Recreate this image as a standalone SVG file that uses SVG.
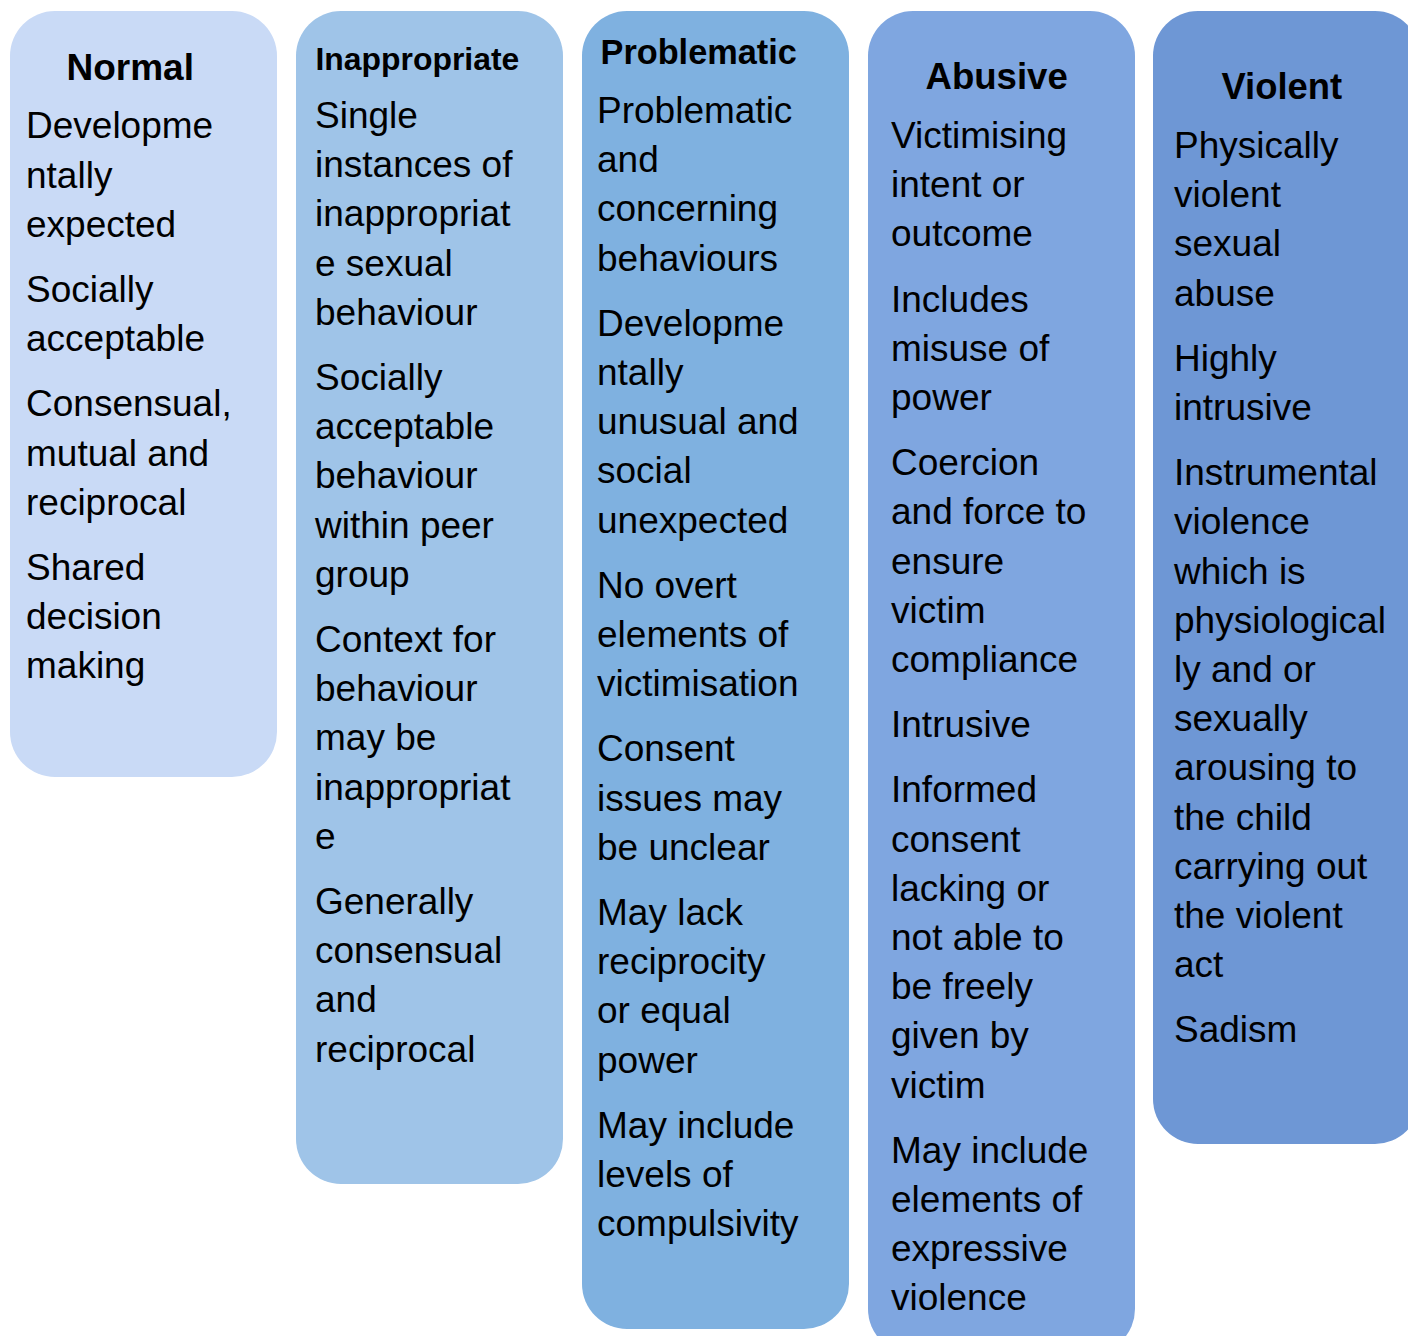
<svg xmlns="http://www.w3.org/2000/svg" width="1408" height="1336" viewBox="0 0 1408 1336">
<style>
text { font-family: "Liberation Sans", Arial, sans-serif; fill: #000; }
.h { font-weight: bold; }
.b { font-size: 37px; }
</style>
<rect width="1408" height="1336" fill="#fff"/>
<g id="normal">
<rect x="10" y="11" width="267" height="766" rx="45" ry="45" fill="#C9DAF6"/>
<text class="h" x="66.5" y="80" font-size="37">Normal</text>
<text class="b">
<tspan x="26" y="138.3">Developme</tspan>
<tspan x="26" y="187.5">ntally</tspan>
<tspan x="26" y="236.7">expected</tspan>
<tspan x="26" y="301.9">Socially</tspan>
<tspan x="26" y="351.1">acceptable</tspan>
<tspan x="26" y="416.3">Consensual,</tspan>
<tspan x="26" y="465.5">mutual and</tspan>
<tspan x="26" y="514.7">reciprocal</tspan>
<tspan x="26" y="579.9">Shared</tspan>
<tspan x="26" y="629.1">decision</tspan>
<tspan x="26" y="678.3">making</tspan>
</text>
</g>
<g id="inappropriate">
<rect x="296" y="11" width="267" height="1173" rx="45" ry="45" fill="#9FC4E8"/>
<text class="h" x="315.5" y="70" font-size="31.9">Inappropriate</text>
<text class="b">
<tspan x="315" y="128">Single</tspan>
<tspan x="315" y="177.2">instances of</tspan>
<tspan x="315" y="226.4">inappropriat</tspan>
<tspan x="315" y="275.6">e sexual</tspan>
<tspan x="315" y="324.8">behaviour</tspan>
<tspan x="315" y="390">Socially</tspan>
<tspan x="315" y="439.2">acceptable</tspan>
<tspan x="315" y="488.4">behaviour</tspan>
<tspan x="315" y="537.6">within peer</tspan>
<tspan x="315" y="586.8">group</tspan>
<tspan x="315" y="652">Context for</tspan>
<tspan x="315" y="701.2">behaviour</tspan>
<tspan x="315" y="750.4">may be</tspan>
<tspan x="315" y="799.6">inappropriat</tspan>
<tspan x="315" y="848.8">e</tspan>
<tspan x="315" y="914">Generally</tspan>
<tspan x="315" y="963.2">consensual</tspan>
<tspan x="315" y="1012.4">and</tspan>
<tspan x="315" y="1061.6">reciprocal</tspan>
</text>
</g>
<g id="problematic">
<rect x="582" y="11" width="267" height="1318" rx="45" ry="45" fill="#7FB1E0"/>
<text class="h" x="600.5" y="64" font-size="34.3">Problematic</text>
<text class="b">
<tspan x="597" y="123">Problematic</tspan>
<tspan x="597" y="172.2">and</tspan>
<tspan x="597" y="221.4">concerning</tspan>
<tspan x="597" y="270.6">behaviours</tspan>
<tspan x="597" y="335.8">Developme</tspan>
<tspan x="597" y="385">ntally</tspan>
<tspan x="597" y="434.2">unusual and</tspan>
<tspan x="597" y="483.4">social</tspan>
<tspan x="597" y="532.6">unexpected</tspan>
<tspan x="597" y="597.8">No overt</tspan>
<tspan x="597" y="647">elements of</tspan>
<tspan x="597" y="696.2">victimisation</tspan>
<tspan x="597" y="761.4">Consent</tspan>
<tspan x="597" y="810.6">issues may</tspan>
<tspan x="597" y="859.8">be unclear</tspan>
<tspan x="597" y="925">May lack</tspan>
<tspan x="597" y="974.2">reciprocity</tspan>
<tspan x="597" y="1023.4">or equal</tspan>
<tspan x="597" y="1072.6">power</tspan>
<tspan x="597" y="1137.8">May include</tspan>
<tspan x="597" y="1187">levels of</tspan>
<tspan x="597" y="1236.2">compulsivity</tspan>
</text>
</g>
<g id="abusive">
<rect x="868" y="11" width="267" height="1343" rx="45" ry="45" fill="#7FA6E0"/>
<text class="h" x="925.5" y="89" font-size="36.6">Abusive</text>
<text class="b">
<tspan x="891" y="148">Victimising</tspan>
<tspan x="891" y="197.2">intent or</tspan>
<tspan x="891" y="246.4">outcome</tspan>
<tspan x="891" y="311.6">Includes</tspan>
<tspan x="891" y="360.8">misuse of</tspan>
<tspan x="891" y="410">power</tspan>
<tspan x="891" y="475.2">Coercion</tspan>
<tspan x="891" y="524.4">and force to</tspan>
<tspan x="891" y="573.6">ensure</tspan>
<tspan x="891" y="622.8">victim</tspan>
<tspan x="891" y="672">compliance</tspan>
<tspan x="891" y="737.2">Intrusive</tspan>
<tspan x="891" y="802.4">Informed</tspan>
<tspan x="891" y="851.6">consent</tspan>
<tspan x="891" y="900.8">lacking or</tspan>
<tspan x="891" y="950">not able to</tspan>
<tspan x="891" y="999.2">be freely</tspan>
<tspan x="891" y="1048.4">given by</tspan>
<tspan x="891" y="1097.6">victim</tspan>
<tspan x="891" y="1162.8">May include</tspan>
<tspan x="891" y="1212">elements of</tspan>
<tspan x="891" y="1261.2">expressive</tspan>
<tspan x="891" y="1310.4">violence</tspan>
</text>
</g>
<g id="violent">
<rect x="1153" y="11" width="267" height="1133" rx="45" ry="45" fill="#6E97D5"/>
<text class="h" x="1221.5" y="99" font-size="36.4">Violent</text>
<text class="b">
<tspan x="1174" y="158">Physically</tspan>
<tspan x="1174" y="207.2">violent</tspan>
<tspan x="1174" y="256.4">sexual</tspan>
<tspan x="1174" y="305.6">abuse</tspan>
<tspan x="1174" y="370.8">Highly</tspan>
<tspan x="1174" y="420">intrusive</tspan>
<tspan x="1174" y="485.2">Instrumental</tspan>
<tspan x="1174" y="534.4">violence</tspan>
<tspan x="1174" y="583.6">which is</tspan>
<tspan x="1174" y="632.8">physiological</tspan>
<tspan x="1174" y="682">ly and or</tspan>
<tspan x="1174" y="731.2">sexually</tspan>
<tspan x="1174" y="780.4">arousing to</tspan>
<tspan x="1174" y="829.6">the child</tspan>
<tspan x="1174" y="878.8">carrying out</tspan>
<tspan x="1174" y="928">the violent</tspan>
<tspan x="1174" y="977.2">act</tspan>
<tspan x="1174" y="1042.4">Sadism</tspan>
</text>
</g>
<g id="connectors"/>
</svg>
